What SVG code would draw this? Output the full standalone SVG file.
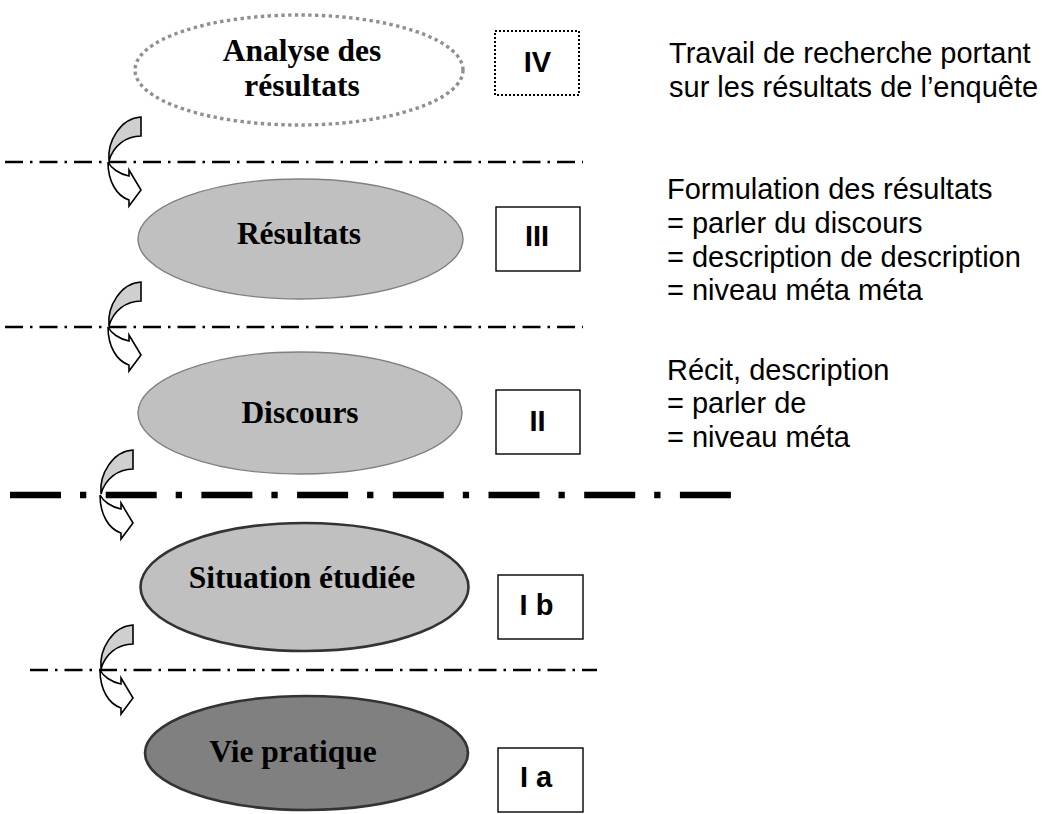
<svg xmlns="http://www.w3.org/2000/svg" width="1049" height="814" viewBox="0 0 1049 814">
<style>
.lbl{font-family:"Liberation Serif","Times New Roman",serif;font-weight:bold;font-size:31.5px;fill:#000;text-anchor:middle}
.num{font-family:"Liberation Sans",Arial,sans-serif;font-weight:bold;font-size:29px;fill:#000;text-anchor:middle}
.desc{font-family:"Liberation Sans",Arial,sans-serif;font-size:29px;fill:#000}
.box{fill:#fff;stroke:#000;stroke-width:1.4}
.thin{stroke:#000;stroke-width:2.3;fill:none;stroke-dasharray:18 7 2.5 7}
.thick{stroke:#000;stroke-width:6.7;fill:none;stroke-dasharray:51 19 6.3 19.4}
.agray{fill:#cfcfcf;stroke:#000;stroke-width:1.6;stroke-linejoin:miter}
.awhite{fill:#fff;stroke:#000;stroke-width:1.6;stroke-linejoin:miter}
</style>
<defs>
<g id="carrow">
<path class="agray" d="M0,0 L0,19 C-15,19 -28,29 -32,44 C-34,24 -20,1 0,0 Z"/>
<path class="awhite" d="M-33,45 C-33,65 -24,79 -12,83 L-12,89 L0,73 L-12,53 L-12,59 C-22,57 -30,51 -33,45 Z"/>
</g>
</defs>

<g id="separators">
<line class="thin" x1="5" y1="162" x2="583" y2="162"/>
<line class="thin" x1="5" y1="327" x2="583" y2="327"/>
<line class="thick" x1="10" y1="495" x2="732" y2="495"/>
<line class="thin" x1="30" y1="670" x2="597" y2="670"/>
</g>

<g id="connectors">
<use href="#carrow" transform="translate(141,117)"/>
<use href="#carrow" transform="translate(141,282)"/>
<use href="#carrow" transform="translate(133,450)"/>
<use href="#carrow" transform="translate(133,625)"/>
</g>

<g id="node-analyse">
<ellipse cx="299" cy="70" rx="164" ry="55" fill="#fff" stroke="#909090" stroke-width="3.4" stroke-dasharray="3.4 3.4"/>
<text class="lbl" x="302" y="61">Analyse des</text>
<text class="lbl" x="302" y="96">résultats</text>
</g>
<g id="node-resultats">
<ellipse cx="300.5" cy="239" rx="162.5" ry="60" fill="#c0c0c0" stroke="#808080" stroke-width="1.4"/>
<text class="lbl" x="299" y="244">Résultats</text>
</g>
<g id="node-discours">
<ellipse cx="300" cy="413" rx="162" ry="61" fill="#c0c0c0" stroke="#808080" stroke-width="1.4"/>
<text class="lbl" x="300" y="423">Discours</text>
</g>
<g id="node-situation">
<ellipse cx="304.5" cy="587" rx="164" ry="64" fill="#c0c0c0" stroke="#333" stroke-width="2.6"/>
<text class="lbl" x="302" y="588">Situation étudiée</text>
</g>
<g id="node-vie">
<ellipse cx="306.5" cy="753" rx="161.5" ry="57" fill="#808080" stroke="#333" stroke-width="2.6"/>
<text class="lbl" x="293" y="762">Vie pratique</text>
</g>

<g id="box-IV">
<rect x="495" y="31" width="84" height="64" fill="#fff" stroke="#000" stroke-width="2" stroke-dasharray="2 2"/>
<text class="num" x="537.5" y="72">IV</text>
</g>
<g id="box-III">
<rect class="box" x="496" y="207" width="84" height="64"/>
<text class="num" x="537" y="246">III</text>
</g>
<g id="box-II">
<rect class="box" x="496" y="390" width="84" height="64"/>
<text class="num" x="537.5" y="431">II</text>
</g>
<g id="box-Ib">
<rect class="box" x="498" y="575" width="85" height="64"/>
<text class="num" x="536.5" y="615">I b</text>
</g>
<g id="box-Ia">
<rect class="box" x="498" y="748" width="85" height="64"/>
<text class="num" x="536" y="787">I a</text>
</g>

<g id="desc-IV">
<text class="desc" x="669" y="63">Travail de recherche portant</text>
<text class="desc" x="669" y="97">sur les résultats de l’enquête</text>
</g>
<g id="desc-III">
<text class="desc" x="667" y="198.5">Formulation des résultats</text>
<text class="desc" x="667" y="232.5">= parler du discours</text>
<text class="desc" x="667" y="266.5">= description de description</text>
<text class="desc" x="667" y="300">= niveau méta méta</text>
</g>
<g id="desc-II">
<text class="desc" x="667" y="380">Récit, description</text>
<text class="desc" x="667" y="413">= parler de</text>
<text class="desc" x="667" y="447">= niveau méta</text>
</g>
</svg>
